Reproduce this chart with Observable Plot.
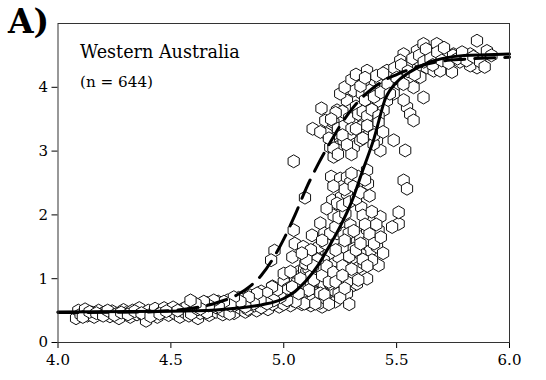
<!DOCTYPE html>
<html>
<head>
<meta charset="utf-8">
<script src="https://cdn.jsdelivr.net/npm/d3@7"></script>
<script src="https://cdn.jsdelivr.net/npm/@observablehq/plot@0.6"></script>
<style>
  html, body { margin: 0; padding: 0; background: #fff; }
  #wrap { position: relative; width: 546px; height: 380px; }
  #panel { position: absolute; left: 8px; top: 5px; font-family: "DejaVu Serif", "Liberation Serif", serif; font-weight: bold; font-size: 33px; line-height: 33px; color: #000; }
</style>
</head>
<body>
<div id="wrap"><div id="panel">A)</div></div>
<script>
const serifFont = '"DejaVu Serif", "Liberation Serif", serif';
const xTicks = [4.0, 4.5, 5.0, 5.5, 6.0];
const yTicks = [0, 1, 2, 3, 4];
const titleText = "Western Australia";
const countText = "(n = 644)";

// observed points [x, y]
const hexPoints = [
  [4.08,0.38],[4.09,0.50],[4.10,0.44],[4.12,0.52],[4.13,0.42],[4.15,0.47],[4.16,0.40],[4.18,0.50],[4.19,0.44],[4.21,0.48],
  [4.23,0.41],[4.24,0.49],[4.26,0.45],[4.27,0.38],[4.29,0.51],[4.30,0.46],[4.32,0.40],[4.33,0.50],[4.35,0.44],[4.36,0.54],
  [4.38,0.42],[4.39,0.34],[4.40,0.50],[4.42,0.46],[4.43,0.53],[4.44,0.40],[4.46,0.48],[4.47,0.54],[4.49,0.43],[4.50,0.50],
  [4.51,0.55],[4.52,0.45],[4.54,0.40],[4.55,0.52],[4.56,0.47],[4.57,0.56],[4.58,0.42],[4.60,0.50],[4.61,0.60],[4.62,0.38],
  [4.63,0.46],[4.64,0.55],[4.65,0.50],[4.66,0.62],[4.67,0.43],[4.68,0.53],[4.69,0.58],[4.70,0.48],[4.71,0.64],[4.72,0.52],
  [4.73,0.44],[4.74,0.59],[4.75,0.66],[4.76,0.50],[4.77,0.56],[4.78,0.46],[4.79,0.62],[4.80,0.70],[4.81,0.53],[4.82,0.58],
  [4.83,0.48],[4.84,0.66],[4.85,0.74],[4.86,0.55],[4.87,0.62],[4.88,0.50],[4.89,0.70],[4.90,0.80],[4.91,0.58],[4.92,0.66],
  [4.93,0.52],[4.94,0.76],[4.95,0.88],[4.96,0.62],[4.97,0.70],[4.98,0.56],[4.99,0.82],[5.00,0.95],[5.01,0.64],[5.02,0.74],
  [5.03,0.58],[5.04,0.88],[5.05,1.02],[5.06,0.68],[5.07,0.80],[5.08,0.60],[5.09,0.92],[5.10,1.05],[5.11,0.72],[5.12,0.58],
  [5.13,0.86],[5.14,1.10],[5.15,0.65],[5.16,0.96],[5.17,0.56],
  [4.11,0.40],[4.14,0.48],[4.17,0.46],[4.20,0.42],[4.22,0.50],[4.25,0.43],[4.28,0.47],[4.31,0.44],[4.34,0.49],[4.37,0.46],
  [4.41,0.41],[4.45,0.45],[4.48,0.49],[4.53,0.50],[4.59,0.45],[4.62,0.52],[4.66,0.47],[4.70,0.55],[4.73,0.50],[4.76,0.45],
  [4.78,0.58],[4.81,0.62],[4.84,0.52],[4.87,0.58],[4.90,0.55],[4.92,0.72],[4.95,0.60],[4.97,0.78],[5.00,0.60],[5.02,0.85],
  [5.04,0.66],[5.06,0.95],[5.08,0.74],[5.10,0.62],[5.12,0.95],[5.14,0.78],[5.16,0.62],[5.18,0.85],[5.20,0.70],
  [5.06,1.08],[5.07,1.12],[5.08,1.06],[5.09,1.14],[5.10,1.10],[5.11,1.16],[5.12,1.04],
  [5.044,2.84],[5.128,3.35],[5.167,3.67],[5.094,2.27],[4.959,1.44],[4.944,1.29],[5.044,1.76],[5.049,1.55],[5.038,1.34],[5.086,1.50],
  [5.125,1.68],[5.162,1.87],[5.18,1.71],[5.21,2.60],[5.215,2.23],[5.221,1.99],[5.236,1.71],[5.254,2.28],[5.25,2.57],[5.265,2.46],
  [5.28,2.59],[5.295,2.51],[5.28,2.33],[5.295,1.84],[5.324,1.60],[5.339,1.65],[5.343,2.12],[5.35,1.99],[5.369,2.70],[5.373,2.49],
  [5.369,1.77],[5.376,1.60],[5.383,1.44],[5.428,1.97],[5.42,1.76],[5.42,1.21],[5.369,1.00],[5.31,0.90],[5.288,1.05],[5.317,1.31],
  [5.332,1.18],[5.273,1.29],[5.265,1.50],[5.221,1.24],[5.199,1.08],[5.177,0.92],[5.228,0.64],[5.221,0.82],[5.206,0.92],[5.147,0.77],
  [5.128,0.66],[5.091,0.61],[5.052,0.64],[5.015,0.82],[5.0,1.08],[5.03,1.11],[5.074,1.00],[5.096,1.24],[5.118,1.39],[5.14,1.34],
  [5.162,1.18],[5.155,1.50],[5.509,1.86],[5.48,1.81],[5.509,2.04],[5.531,2.54],[5.546,2.41],[5.538,3.01],[5.487,3.17],[5.428,3.01],
  [5.413,3.17],
  [5.546,3.69],[5.56,3.58],[5.575,3.48],[5.531,3.80],[5.619,3.84],[5.369,4.26],[5.31,3.95],[5.28,3.79],[5.265,3.53],[5.295,3.64],
  [5.324,3.48],[5.31,3.22],[5.354,3.48],[5.339,3.27],[5.369,3.27],[5.398,3.38],[5.383,3.74],[5.398,4.05],[5.428,4.11],[5.457,4.26],
  [5.487,4.00],[5.516,4.11],[5.531,4.52],[5.575,4.37],[5.59,4.57],[5.619,4.68],[5.649,4.57],[5.678,4.68],[5.693,4.52],[5.634,4.31],
  [5.664,4.26],[5.693,4.26],[5.745,4.24],[5.723,4.47],[5.752,4.52],[5.782,4.47],[5.826,4.52],[5.856,4.73],[5.90,4.57],[5.856,4.31],
  [5.826,4.34],[5.78,4.40],[5.605,4.16],[5.56,4.16],[5.575,4.00],[5.487,3.90],[5.457,3.79],[5.442,3.64],[5.42,3.79],[5.221,3.27],
  [5.206,3.38],[5.19,3.27],[5.206,3.06],[5.236,3.06],[5.221,2.91],[5.25,3.48],[5.236,3.64],[5.31,3.06],[5.339,3.17],[5.398,3.11],
  [5.265,3.17],[5.295,3.27],[5.346,3.90],[5.354,4.08],[5.413,3.95],[5.45,4.00],[5.48,4.18],[5.509,4.26],[5.546,4.31],[5.597,4.42],
  [5.516,4.42],[5.184,3.48],[5.162,3.30],
  [5.243,0.77],[5.28,0.77],[5.31,1.03],[5.324,0.92],[5.339,1.39],[5.354,1.24],[5.25,1.13],[5.243,1.34],[5.265,1.71],[5.288,1.71],
  [5.31,1.47],[5.391,1.29],[5.413,1.50],[5.199,1.39],[5.177,1.29],[5.184,1.55],[5.206,1.71],[5.229,1.81],[5.243,1.96],[5.273,2.02],
  [5.236,2.18],[5.206,1.08],[5.133,0.98],[5.111,0.82],[5.162,0.77],[5.184,0.69],[5.14,0.61],[5.066,0.77],[5.037,0.87],[5.015,0.66],
  [4.985,0.71],[4.97,0.82],[4.948,0.87],[4.926,0.77],[4.956,0.66],[4.926,0.61],[4.897,0.66],[4.882,0.77],[4.867,0.61],[4.845,0.71],
  [4.83,0.56],[4.808,0.64],[4.779,0.71],[4.764,0.58],[4.735,0.64],[4.712,0.56],[4.69,0.66],[4.668,0.58],[4.646,0.64],[4.631,0.53],
  [4.609,0.61],[4.587,0.66],
  [5.22,3.45],[5.24,3.35],[5.26,3.62],[5.27,3.40],[5.29,3.52],[5.30,3.35],[5.32,3.70],[5.33,3.58],[5.34,3.38],[5.35,3.62],
  [5.36,3.80],[5.37,3.55],[5.38,3.95],[5.39,3.65],[5.40,3.85],[5.41,4.18],[5.42,3.55],[5.43,3.92],[5.44,4.22],[5.46,4.05],
  [5.47,3.90],[5.49,4.30],[5.50,4.15],[5.52,4.35],[5.53,4.05],[5.55,4.25],[5.57,4.45],[5.58,4.20],[5.60,4.50],[5.62,4.40],
  [5.63,4.60],[5.65,4.45],[5.66,4.35],[5.68,4.55],[5.70,4.42],[5.71,4.62],[5.73,4.38],[5.75,4.50],[5.77,4.45],[5.79,4.55],
  [5.81,4.42],[5.84,4.48],[5.87,4.40],[5.89,4.32],[5.92,4.50],
  [5.25,3.90],[5.27,4.00],[5.30,4.12],[5.32,4.20],[5.34,4.02],[5.36,4.15],[5.26,3.25],[5.28,3.10],[5.30,2.95],[5.32,3.35],
  [5.35,3.20],[5.37,3.40],[5.40,3.25],[5.42,3.45],[5.44,3.30],[5.22,3.05],[5.24,2.95],[5.20,3.20],[5.23,3.60],[5.21,3.50],
  [5.17,1.05],[5.19,1.20],[5.20,0.95],[5.22,1.10],[5.23,1.45],[5.25,0.95],[5.26,1.20],[5.27,1.60],[5.28,0.95],[5.29,1.35],
  [5.30,1.15],[5.31,1.75],[5.32,1.45],[5.33,0.98],[5.34,1.55],[5.35,1.30],[5.36,1.85],[5.37,1.20],[5.38,1.70],[5.39,2.05],
  [5.40,1.55],[5.41,1.85],[5.43,1.65],[5.44,1.40],[5.26,2.15],[5.27,2.40],[5.29,2.20],[5.31,2.45],[5.32,2.25],[5.33,2.60],
  [5.34,2.35],[5.36,2.55],[5.38,2.30],[5.30,2.65],[5.22,2.45],[5.19,2.10],[5.17,1.60],[5.15,1.30],[5.13,1.20],[5.12,1.45],
  [5.10,1.30],[5.08,1.40],[5.18,0.75],[5.20,0.60],[5.23,0.95],[5.25,0.70],[5.27,0.85],[5.29,0.60],[5.26,1.05]
];

// fitted curves
const solidX = [4.0, 4.5, 4.7, 4.8, 4.9, 5.0, 5.05, 5.1, 5.15, 5.2, 5.25, 5.3, 5.35, 5.4, 5.45, 5.5, 5.55, 5.6, 5.65, 5.7, 5.8, 5.9, 6.0];
const solidY = [0.48, 0.49, 0.51, 0.54, 0.59, 0.69, 0.80, 0.97, 1.2, 1.5, 1.82, 2.2, 2.7, 3.2, 3.82, 4.08, 4.22, 4.32, 4.40, 4.45, 4.50, 4.51, 4.52];
const dashedX = [4.0, 4.4, 4.5, 4.6, 4.7, 4.8, 4.85, 4.9, 4.95, 5.0, 5.05, 5.1, 5.15, 5.2, 5.25, 5.3, 5.35, 5.4, 5.45, 5.5, 5.6, 5.7, 5.8, 5.9, 6.0];
const dashedY = [0.47, 0.48, 0.50, 0.54, 0.62, 0.76, 0.88, 1.05, 1.30, 1.62, 2.0, 2.42, 2.78, 3.1, 3.4, 3.65, 3.85, 4.0, 4.12, 4.2, 4.33, 4.41, 4.44, 4.46, 4.47];

const solid = solidX.map((x, i) => ({x, y: solidY[i]}));
const dashed = dashedX.map((x, i) => ({x, y: dashedY[i]}));

const chart = Plot.plot({
  width: 546,
  height: 380,
  marginTop: 23,
  marginRight: 37,
  marginBottom: 38,
  marginLeft: 57.5,
  style: {fontFamily: serifFont, fontSize: "15px", color: "#000", background: "#fff", overflow: "visible"},
  x: {domain: [4, 6], ticks: xTicks, tickFormat: d3.format(".1f"), tickSize: 6, tickPadding: 6, label: null},
  y: {domain: [0, 5], ticks: yTicks, tickFormat: d3.format("d"), tickSize: 6, tickPadding: 4, label: null},
  marks: [
    Plot.dot(hexPoints, {x: d => d[0], y: d => d[1], symbol: "hexagon", r: 5.6, fill: "white", stroke: "#111", strokeWidth: 1}),
    Plot.line(dashed, {x: "x", y: "y", stroke: "#000", strokeWidth: 3, strokeDasharray: "20,10", curve: "monotone-x"}),
    Plot.line(solid, {x: "x", y: "y", stroke: "#000", strokeWidth: 3, curve: "monotone-x"}),
    Plot.frame({stroke: "#333", strokeWidth: 1})
  ]
});
document.getElementById("wrap").appendChild(chart);
d3.select(chart).selectAll("text").style("font-family", serifFont);

const svg = d3.select(chart);
svg.append("text").attr("x", 80).attr("y", 58).attr("text-anchor", "start")
  .style("font-family", serifFont).attr("font-size", 17.6).attr("fill", "#000")
  .text(titleText);
svg.append("text").attr("x", 80).attr("y", 87).attr("text-anchor", "start")
  .style("font-family", serifFont).attr("font-size", 15.2).attr("fill", "#000")
  .text(countText);
</script>
</body>
</html>
